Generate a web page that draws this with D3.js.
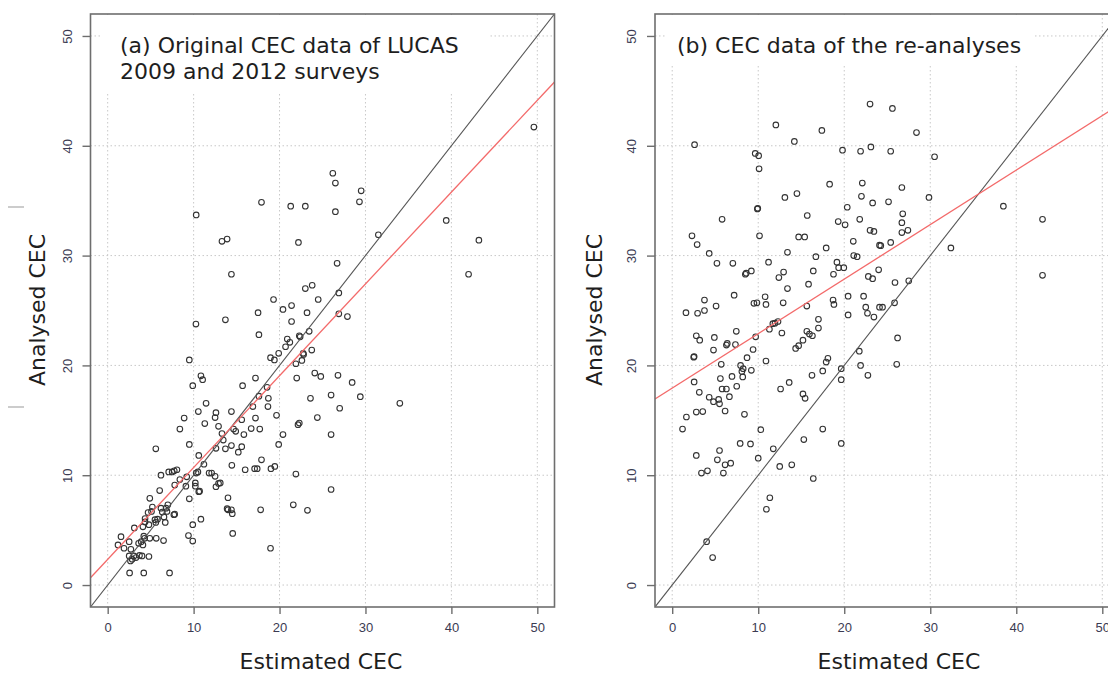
<!DOCTYPE html>
<html><head><meta charset="utf-8">
<script src="https://cdn.jsdelivr.net/npm/d3@7"></script>
<style>body{margin:0;background:#fff;}svg{display:block;}</style>
</head><body>
<svg id="c" width="1108" height="673"></svg>
<script>
// ---- data ----
const estA = [10.3,17.9,21.3,23.0,13.3,13.9,22.2,14.4,23.0,23.8,19.3,49.6,26.2,26.5,29.5,29.3,26.5,31.5,39.4,43.2,42.0,26.7,26.9,24.5,23.2,26.9,27.9,23.45,22.4,23.75,22.8,22.6,24.1,24.8,26.8,28.45,26.0,29.4,23.6,27.0,34.0,24.4,22.3,22.15,26.0,26.0,23.25,17.5,20.4,21.4,10.27,13.7,17.6,21.4,22.3,20.9,21.2,18.95,19.4,19.9,20.7,22.75,21.9,22.0,9.5,10.85,11.05,9.9,11.45,15.7,17.2,18.55,18.7,17.6,16.9,18.65,19.65,17.2,17.7,16.7,20.4,19.9,10.55,8.9,8.4,12.6,12.5,11.3,12.9,13.3,14.4,14.65,14.9,15.6,15.85,13.45,14.4,15.6,15.2,13.7,12.6,9.5,10.6,11.2,14.45,17.9,16.0,17.1,17.4,19.0,19.45,21.9,5.6,6.2,7.1,7.5,7.75,8.06,8.4,7.8,9.1,6.05,4.9,5.2,9.5,10.3,10.5,10.2,10.6,11.8,12.1,12.5,12.6,13.1,14.0,14.0,14.4,14.5,14.55,17.8,18.95,21.6,10.85,9.9,9.4,9.9,7.7,7.2,4.2,2.55,9.2,5.1,4.7,6.2,6.35,6.8,7.0,6.9,6.55,7.8,3.1,4.1,4.35,4.35,5.5,5.6,5.8,4.8,4.9,5.65,6.7,6.5,1.55,1.2,1.9,2.5,2.7,2.5,3.05,2.85,2.65,3.3,3.7,4.0,4.8,4.1,4.2,4.3,3.9,3.6,10.7,10.2,12.9,13.9];
const anaA = [33.7,34.85,34.5,34.5,31.3,31.5,31.2,28.3,27.0,27.3,26.0,41.7,37.5,36.6,35.9,34.9,34.0,31.9,33.2,31.4,28.3,29.3,26.6,26.0,24.8,24.7,24.45,23.1,22.6,21.4,21.0,20.45,19.3,19.0,19.1,18.45,17.3,17.15,17.0,16.1,16.55,15.25,14.75,14.6,13.7,8.7,6.8,24.8,25.1,25.45,23.76,24.15,22.8,24.0,22.7,22.4,22.1,20.7,20.5,21.1,21.7,21.1,20.15,18.85,20.5,19.05,18.7,18.15,16.55,18.15,18.85,18.0,17.0,17.2,16.25,16.25,15.45,15.2,14.2,14.25,13.7,12.8,15.8,15.2,14.2,15.7,15.25,14.7,14.45,13.8,15.8,14.2,14.0,15.05,13.7,13.2,12.7,12.6,12.1,12.4,12.45,12.8,11.8,11.0,10.9,11.4,10.5,10.6,10.6,10.6,10.8,10.1,12.4,10.0,10.3,10.3,10.4,10.5,9.6,9.1,9.0,8.6,7.9,7.1,7.85,10.2,10.3,9.0,8.5,10.2,10.2,9.9,8.95,9.3,7.95,6.85,6.85,6.5,4.7,6.85,3.35,7.3,6.0,5.5,4.5,4.0,6.4,1.1,1.1,1.1,9.85,6.7,6.6,7.0,6.65,7.0,7.3,6.7,6.2,6.45,5.2,5.3,5.75,6.05,5.95,5.7,6.0,5.5,4.25,4.25,5.7,4.05,4.4,3.65,3.35,3.95,3.25,2.65,2.65,2.35,2.2,2.5,2.7,2.65,2.6,3.65,4.45,4.25,3.95,3.8,8.55,9.3,9.25,6.95];
const estB = [23.0,12.05,17.4,2.6,14.2,9.65,10.05,19.8,21.9,23.1,10.1,18.3,22.1,13.1,14.5,22.0,23.3,9.9,9.95,20.35,5.8,15.7,19.3,20.1,21.8,23.0,23.45,2.3,2.9,10.15,14.7,15.4,21.05,24.1,4.3,13.4,17.9,16.7,21.1,21.5,5.2,7.05,8.5,8.6,9.2,11.2,12.4,12.95,16.4,19.15,19.35,19.95,18.75,13.4,15.85,22.8,23.3,24.0,7.2,3.75,1.6,2.95,3.75,5.1,9.5,9.85,10.8,10.9,12.9,15.65,18.7,18.8,20.45,20.45,22.25,22.5,22.7,23.45,24.1,17.0,17.0,15.65,15.95,16.3,15.2,14.35,14.7,11.3,11.7,12.3,11.95,12.75,9.7,9.4,8.7,7.45,7.35,6.3,6.4,4.9,2.8,3.2,4.8,2.5,2.55,5.7,10.9,7.95,8.25,8.1,9.2,8.2,6.95,5.6,2.55,7.5,5.8,6.3,3.15,6.65,4.3,4.8,5.4,5.5,6.15,2.8,3.55,1.65,8.4,18.1,17.9,17.5,16.25,13.6,12.6,15.2,15.45,19.65,19.65,21.75,21.9,22.75,1.2,10.3,7.9,9.1,11.75,15.3,17.5,19.65,2.8,5.5,5.25,6.15,6.8,3.4,4.1,5.95,10.0,12.5,13.9,16.4,11.35,10.95,4.0,4.7,25.6,28.4,25.4,30.5,26.7,25.15,29.85,38.5,26.8,43.05,26.7,26.7,27.4,24.25,25.4,32.4,25.9,27.5,43.05,24.45,25.85,26.2,26.1];
const anaB = [43.8,41.9,41.4,40.1,40.4,39.3,39.1,39.6,39.5,39.9,37.9,36.5,36.6,35.3,35.65,35.4,34.8,34.25,34.3,34.4,33.3,33.65,33.1,32.8,33.3,32.3,32.2,31.8,31.0,31.8,31.7,31.7,31.3,30.95,30.2,30.3,30.7,29.9,30.0,29.9,29.3,29.3,28.3,28.4,28.6,29.4,28.0,28.5,28.6,29.4,28.9,28.9,28.3,27.0,27.4,28.1,27.9,28.7,26.4,25.95,24.8,24.75,25.0,25.4,25.65,25.7,26.25,25.55,25.7,25.4,25.95,25.55,26.3,24.6,26.3,25.3,24.75,24.4,25.3,24.2,23.4,23.1,22.85,22.7,22.3,21.55,21.8,23.3,23.8,24.0,23.85,22.95,22.6,21.45,20.7,23.1,21.9,21.85,22.0,22.55,22.7,22.3,21.4,20.75,20.8,20.1,20.4,20.0,19.7,19.45,19.55,18.95,19.0,18.8,18.5,18.1,17.85,17.85,17.55,17.15,17.1,16.7,16.9,16.5,15.85,15.75,15.8,15.3,15.55,20.65,20.3,19.5,19.1,18.45,17.85,17.4,17.0,19.7,18.7,21.3,20.0,19.1,14.2,14.15,12.9,12.85,12.4,13.25,14.2,12.9,11.8,12.25,11.4,10.95,11.1,10.2,10.4,10.2,11.55,10.8,10.95,9.7,7.95,6.9,3.95,2.5,43.4,41.2,39.5,39.0,36.2,34.9,35.3,34.5,33.8,33.3,33.0,32.1,32.3,30.9,31.2,30.7,27.55,27.7,28.2,25.3,25.7,22.5,20.1];
const ticks = [0,10,20,30,40,50];
const regA = [2.34, 0.836];   // intercept, slope (red line, panel a)
const regB = [17.94, 0.496];  // intercept, slope (red line, panel b)

const svg = d3.select("#c");
const font = "'DejaVu Sans', Verdana, sans-serif";

function panel(opt){
  const x = d3.scaleLinear().domain([-2,52]).range(opt.xr);
  const y = d3.scaleLinear().domain([-2,52]).range([607,14]);
  const g = svg.append("g");
  const cid = "clip"+opt.id;
  svg.append("clipPath").attr("id",cid).append("rect")
     .attr("x",opt.xr[0]).attr("y",14).attr("width",opt.xr[1]-opt.xr[0]).attr("height",593);
  // grid
  const grid = g.append("g").attr("stroke","#c8c8c8").attr("stroke-dasharray","1.5,2.5").attr("stroke-width",1);
  ticks.forEach(t=>{
    grid.append("line").attr("x1",x(t)).attr("x2",x(t)).attr("y1",14).attr("y2",607);
    grid.append("line").attr("y1",y(t)).attr("y2",y(t)).attr("x1",opt.xr[0]).attr("x2",opt.xr[1]);
  });
  // white label background
  g.append("rect").attr("x",opt.lbg[0]).attr("y",15).attr("width",opt.lbg[1]).attr("height",opt.lbg[2]).attr("fill","#fff");
  const cg = g.append("g").attr("clip-path",`url(#${cid})`);
  // points
  cg.append("g").selectAll("circle").data(opt.ex.map((e,i)=>[e,opt.an[i]])).join("circle")
    .attr("cx",d=>x(d[0])).attr("cy",d=>y(d[1])).attr("r",2.8)
    .attr("fill","none").attr("stroke","#333").attr("stroke-width",1.1);
  // 1:1 line
  cg.append("line").attr("x1",x(-2)).attr("y1",y(-2)).attr("x2",x(52)).attr("y2",y(52))
    .attr("stroke","#555").attr("stroke-width",1.1);
  // regression line
  cg.append("line").attr("x1",x(-2)).attr("y1",y(opt.reg[0]+opt.reg[1]*-2))
    .attr("x2",x(52)).attr("y2",y(opt.reg[0]+opt.reg[1]*52))
    .attr("stroke","#f36a6a").attr("stroke-width",1.3);
  // box
  g.append("rect").attr("x",opt.xr[0]).attr("y",14).attr("width",opt.xr[1]-opt.xr[0]).attr("height",593)
    .attr("fill","none").attr("stroke","#6e6e6e").attr("stroke-width",1.6);
  // axes
  const xa = g.append("g").attr("transform","translate(0,607)")
    .call(d3.axisBottom(x).tickValues(ticks).tickSize(7).tickPadding(9));
  const ya = g.append("g").attr("transform",`translate(${opt.xr[0]},0)`)
    .call(d3.axisLeft(y).tickValues(ticks).tickSize(8).tickPadding(6));
  [xa,ya].forEach(a=>{
    a.select(".domain").remove();
    a.selectAll(".tick line").attr("stroke","#6e6e6e").attr("stroke-width",1.4);
    a.selectAll("text").attr("font-family","'Liberation Sans', Arial, sans-serif").attr("font-size",13).attr("fill","#3b3b52");
  });
  ya.selectAll(".tick text").attr("transform","rotate(-90)").attr("x",0).attr("dy",0).attr("y",-19).attr("text-anchor","middle");
  // titles
  const tt = g.append("text").attr("font-family",font).attr("font-size",22).attr("fill","#1e1e1e");
  opt.title.forEach((l,i)=>tt.append("tspan").attr("x",opt.tx).attr("y",53+i*26).text(l));
  g.append("text").attr("font-family",font).attr("font-size",22).attr("fill","#1e1e1e")
    .attr("text-anchor","middle").attr("x",opt.xl).attr("y",669).text("Estimated CEC");
  g.append("text").attr("font-family",font).attr("font-size",22).attr("fill","#1e1e1e")
    .attr("text-anchor","middle").attr("transform",`translate(${opt.yl},310) rotate(-90)`).text("Analysed CEC");
}

panel({id:"a", xr:[90.5,554.5], ex:estA, an:anaA, reg:regA,
  title:["(a) Original CEC data of LUCAS","2009 and 2012 surveys"], tx:120, xl:321, yl:45, lbg:[100,390,78]});
panel({id:"b", xr:[655,1119.5], ex:estB, an:anaB, reg:regB,
  title:["(b) CEC data of the re-analyses"], tx:677, xl:899, yl:602, lbg:[665,370,50]});

// small marks at the far left edge
[207,407].forEach(v=>svg.append("line").attr("x1",8).attr("x2",24).attr("y1",v).attr("y2",v).attr("stroke","#aaa").attr("stroke-width",1.2));
</script>
</body></html>
